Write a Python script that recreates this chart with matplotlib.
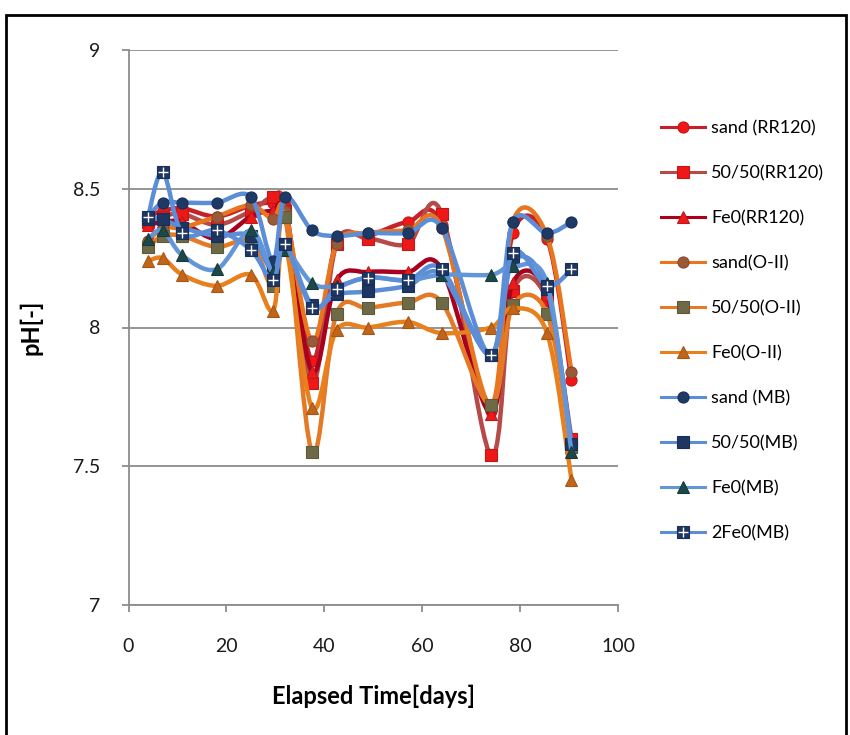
import matplotlib
matplotlib.use("Agg")
import matplotlib.pyplot as plt
from matplotlib.path import Path
from matplotlib.patches import PathPatch, Rectangle
from matplotlib.lines import Line2D
from matplotlib.legend_handler import HandlerTuple
import numpy as np

plt.rcParams['font.family'] = ['Lato', 'DejaVu Sans']

days = [4, 7, 11, 18, 25, 29.5, 32, 37.5, 42.5, 49, 57, 64, 74, 78.5, 85.5, 90.5]

sand_rr120   = [8.40, 8.42, 8.43, 8.40, 8.44, 8.45, 8.44, 7.88, 8.31, 8.33, 8.38, 8.37, 7.70, 8.34, 8.32, 7.81]
s5050_rr120  = [8.38, 8.40, 8.41, 8.37, 8.42, 8.47, 8.42, 7.80, 8.30, 8.32, 8.30, 8.41, 7.54, 8.13, 8.10, 7.60]
fe0_rr120    = [8.37, 8.38, 8.38, 8.32, 8.40, 8.42, 8.40, 7.84, 8.17, 8.20, 8.20, 8.21, 7.69, 8.16, 8.12, 7.57]
sand_oii     = [8.31, 8.36, 8.36, 8.40, 8.44, 8.39, 8.42, 7.95, 8.30, 8.34, 8.35, 8.36, 7.72, 8.38, 8.33, 7.84]
s5050_oii    = [8.29, 8.33, 8.33, 8.29, 8.31, 8.15, 8.40, 7.55, 8.05, 8.07, 8.09, 8.09, 7.72, 8.08, 8.05, 7.57]
fe0_oii      = [8.24, 8.25, 8.19, 8.15, 8.19, 8.06, 8.30, 7.71, 7.99, 8.00, 8.02, 7.98, 8.00, 8.07, 7.98, 7.45]
sand_mb      = [8.40, 8.45, 8.45, 8.45, 8.47, 8.24, 8.47, 8.35, 8.33, 8.34, 8.34, 8.36, 7.90, 8.38, 8.34, 8.38]
s5050_mb     = [8.39, 8.39, 8.36, 8.33, 8.33, 8.20, 8.30, 8.08, 8.12, 8.13, 8.15, 8.19, 7.90, 8.24, 8.14, 7.58]
fe0_mb       = [8.32, 8.35, 8.26, 8.21, 8.35, 8.20, 8.28, 8.16, 8.15, 8.18, 8.17, 8.19, 8.19, 8.22, 8.16, 7.55]
fe02_mb      = [8.40, 8.56, 8.34, 8.35, 8.28, 8.17, 8.30, 8.07, 8.14, 8.18, 8.17, 8.21, 7.90, 8.27, 8.15, 8.21]

labels = ["sand (RR120)", "50/50(RR120)", "Fe0(RR120)", "sand(O-II)", "50/50(O-II)",
          "Fe0(O-II)", "sand (MB)", "50/50(MB)", "Fe0(MB)", "2Fe0(MB)"]
series = [sand_rr120, s5050_rr120, fe0_rr120, sand_oii, s5050_oii, fe0_oii,
          sand_mb, s5050_mb, fe0_mb, fe02_mb]

# style: line colour, marker, marker face, marker edge
styles = [
    ('#C8202A', 'o', '#F21616', '#C01818'),
    ('#B54A48', 's', '#EE1818', '#C01818'),
    ('#A8001E', '^', '#EE1A1A', '#C01818'),
    ('#E8761E', 'o', '#9A5A3A', '#8A4A2A'),
    ('#E47A26', 's', '#6E6A48', '#5E5A38'),
    ('#E8801E', '^', '#C0651A', '#A85614'),
    ('#5B8ED6', 'o', '#1E3A64', '#17305A'),
    ('#5B8ED6', 's', '#1F3562', '#17305A'),
    ('#6396D8', '^', '#1E4848', '#163A3A'),
    ('#5B8ED6', 's', '#1F3562', '#17305A'),
]

fig = plt.figure(figsize=(8.5, 7.35), dpi=100)
ax = fig.add_axes([128.5/850, 1-605/735, (618-128.5)/850, (605-50)/735])

def smooth_path(x, y):
    pts = np.column_stack([x, y]).astype(float)
    n = len(pts)
    verts = [pts[0]]
    codes = [Path.MOVETO]
    for i in range(n - 1):
        p0 = pts[i-1] if i > 0 else pts[i]
        p1 = pts[i]
        p2 = pts[i+1]
        p3 = pts[i+2] if i + 2 < n else pts[i+1]
        c1 = p1 + (p2 - p0) / 6.0
        c2 = p2 - (p3 - p1) / 6.0
        verts += [c1, c2, p2]
        codes += [Path.CURVE4] * 3
    return Path(verts, codes)

lw = 3.2
handles = []
for k, (vals, (lc, mk, mf, me)) in enumerate(zip(series, styles)):
    z = 3 + k
    patch = PathPatch(smooth_path(days, vals), facecolor='none', edgecolor=lc,
                      lw=lw, zorder=z, capstyle='round', joinstyle='round')
    ax.add_patch(patch)
    ms = 8 if mk != '^' else 8.5
    ax.plot(days, vals, linestyle='none', marker=mk, ms=ms, mfc=mf, mec=me,
            mew=0.8, zorder=z + 0.5)
    h = Line2D([], [], color=lc, lw=2.2, marker=mk, ms=ms, mfc=mf, mec=me, mew=0.8)
    if k == 9:
        ax.plot(days, vals, linestyle='none', marker='+', ms=7, mec='white',
                mew=1.0, zorder=z + 0.6)
        hp = Line2D([], [], linestyle='none', marker='+', ms=7, mec='white', mew=1.0)
        handles.append((h, hp))
    else:
        handles.append(h)

ax.set_xlim(0, 100)
ax.set_ylim(7, 9)
ax.set_xticks([0, 20, 40, 60, 80, 100])
ax.set_yticks([7, 7.5, 8, 8.5, 9])
ax.set_yticklabels(['7', '7.5', '8', '8.5', '9'])
ax.yaxis.grid(True, color='#8C8C8C', lw=1.3)
ax.set_axisbelow(True)
for s in ['top', 'right']:
    ax.spines[s].set_visible(False)
for s in ['left', 'bottom']:
    ax.spines[s].set_color('#8C8C8C')
    ax.spines[s].set_linewidth(1.3)
ax.tick_params(axis='both', colors='#8C8C8C', labelcolor='#1A1A1A',
               labelsize=14, width=1.3)
ax.tick_params(axis='x', length=5, pad=19)
ax.tick_params(axis='y', length=5, pad=15)

ax.set_xlabel('Elapsed Time[days]', fontsize=17, fontweight='bold', labelpad=21)
ax.set_ylabel('pH[-]', fontsize=17, fontweight='bold', labelpad=22)

fig.legend(handles, labels, loc='upper left', bbox_to_anchor=(645/850, 1-104/735),
           frameon=False, fontsize=13, handlelength=2.45, handletextpad=0.3,
           labelspacing=1.6, handler_map={tuple: HandlerTuple(ndivide=1)})

fig.add_artist(Rectangle((6/850, -0.01), 840/850, 1 - 15/735 + 0.01,
                         transform=fig.transFigure, fill=False, ec='black', lw=2))

fig.savefig('out.png', dpi=100)
